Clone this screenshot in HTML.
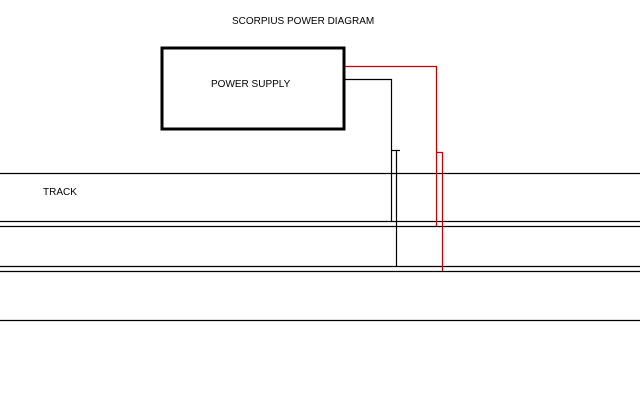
<!DOCTYPE html>
<html><head><style>
body{margin:0;width:640px;height:400px;background:#fff;overflow:hidden;position:relative;font-family:"Liberation Sans",sans-serif}
</style></head><body>
<svg width="640" height="400" style="position:absolute;left:0;top:0">
<rect x="162" y="48" width="182" height="81" fill="none" stroke="#000" stroke-width="3"/>
<g stroke="#000" stroke-width="1.2" fill="none">
<line x1="0" y1="173.5" x2="640" y2="173.5"/>
<line x1="0" y1="221.5" x2="640" y2="221.5"/>
<line x1="0" y1="226.5" x2="640" y2="226.5"/>
<line x1="0" y1="266.5" x2="640" y2="266.5"/>
<line x1="0" y1="271.5" x2="640" y2="271.5"/>
<line x1="0" y1="320.5" x2="640" y2="320.5"/>
<polyline points="345,79.5 391.5,79.5 391.5,221"/>
<polyline points="392,150.5 400,150.5"/>
<line x1="396.5" y1="150" x2="396.5" y2="266"/>
</g>
<g stroke="#c00000" stroke-width="1.2" fill="none">
<polyline points="345,66.5 436.5,66.5 436.5,226"/>
<polyline points="437,152.5 442.5,152.5 442.5,271"/>
</g>
<text x="232" y="24" font-size="10" font-family="Liberation Sans,sans-serif">SCORPIUS POWER DIAGRAM</text>
<text x="211" y="87" font-size="10" font-family="Liberation Sans,sans-serif">POWER SUPPLY</text>
<text x="43" y="195" font-size="10" font-family="Liberation Sans,sans-serif">TRACK</text>
</svg>
</body></html>
